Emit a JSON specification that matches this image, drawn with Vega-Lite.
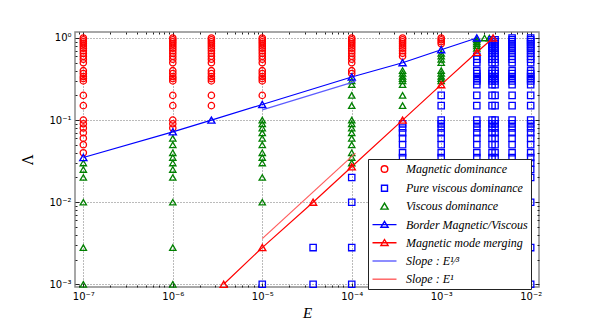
{
"$schema": "https://vega.github.io/schema/vega-lite/v6.json",
"width": 464, "height": 255,
"autosize": "none",
"padding": {"left": 75, "top": 32, "right": 61, "bottom": 33},
"background": "white",
"config": {"view": {"stroke": "#8a8a8a", "strokeWidth": 1.5}},
"data": {"values": [
{"E":1e-7,"L":1,"c":"M"},{"E":1e-7,"L":0.95,"c":"M"},{"E":1e-7,"L":0.9,"c":"M"},{"E":1e-7,"L":0.85,"c":"M"},{"E":1e-7,"L":0.8,"c":"M"},{"E":1e-7,"L":0.75,"c":"M"},{"E":1e-7,"L":0.7,"c":"M"},{"E":1e-7,"L":0.65,"c":"M"},{"E":1e-7,"L":0.6,"c":"M"},{"E":1e-7,"L":0.55,"c":"M"},{"E":1e-7,"L":0.5,"c":"M"},{"E":1e-7,"L":0.4,"c":"M"},{"E":1e-7,"L":0.37,"c":"M"},{"E":1e-7,"L":0.34,"c":"M"},{"E":1e-7,"L":0.32,"c":"M"},{"E":1e-7,"L":0.3,"c":"M"},{"E":1e-7,"L":0.2,"c":"M"},{"E":1e-7,"L":0.15,"c":"M"},{"E":1e-7,"L":0.1,"c":"M"},{"E":1e-7,"L":0.09,"c":"M"},{"E":1e-7,"L":0.08,"c":"M"},{"E":1e-7,"L":0.07,"c":"M"},{"E":1e-7,"L":0.06,"c":"M"},{"E":1e-7,"L":0.05,"c":"M"},{"E":1e-7,"L":0.04,"c":"M"},
{"E":1e-7,"L":0.035,"c":"B"},
{"E":1e-7,"L":0.03,"c":"V"},{"E":1e-7,"L":0.025,"c":"V"},{"E":1e-7,"L":0.02,"c":"V"},{"E":1e-7,"L":0.01,"c":"V"},{"E":1e-7,"L":0.0028,"c":"V"},{"E":1e-7,"L":0.001,"c":"V"},
{"E":1e-6,"L":1,"c":"M"},{"E":1e-6,"L":0.95,"c":"M"},{"E":1e-6,"L":0.9,"c":"M"},{"E":1e-6,"L":0.85,"c":"M"},{"E":1e-6,"L":0.8,"c":"M"},{"E":1e-6,"L":0.75,"c":"M"},{"E":1e-6,"L":0.7,"c":"M"},{"E":1e-6,"L":0.65,"c":"M"},{"E":1e-6,"L":0.6,"c":"M"},{"E":1e-6,"L":0.55,"c":"M"},{"E":1e-6,"L":0.5,"c":"M"},{"E":1e-6,"L":0.4,"c":"M"},{"E":1e-6,"L":0.37,"c":"M"},{"E":1e-6,"L":0.34,"c":"M"},{"E":1e-6,"L":0.32,"c":"M"},{"E":1e-6,"L":0.3,"c":"M"},{"E":1e-6,"L":0.2,"c":"M"},{"E":1e-6,"L":0.15,"c":"M"},{"E":1e-6,"L":0.1,"c":"M"},{"E":1e-6,"L":0.09,"c":"M"},{"E":1e-6,"L":0.08,"c":"M"},
{"E":1e-6,"L":0.072,"c":"B"},
{"E":1e-6,"L":0.06,"c":"V"},{"E":1e-6,"L":0.05,"c":"V"},{"E":1e-6,"L":0.04,"c":"V"},{"E":1e-6,"L":0.035,"c":"V"},{"E":1e-6,"L":0.03,"c":"V"},{"E":1e-6,"L":0.025,"c":"V"},{"E":1e-6,"L":0.02,"c":"V"},{"E":1e-6,"L":0.01,"c":"V"},{"E":1e-6,"L":0.0028,"c":"V"},{"E":1e-6,"L":0.001,"c":"V"},
{"E":2.7e-6,"L":1,"c":"M"},{"E":2.7e-6,"L":0.95,"c":"M"},{"E":2.7e-6,"L":0.9,"c":"M"},{"E":2.7e-6,"L":0.85,"c":"M"},{"E":2.7e-6,"L":0.8,"c":"M"},{"E":2.7e-6,"L":0.75,"c":"M"},{"E":2.7e-6,"L":0.7,"c":"M"},{"E":2.7e-6,"L":0.65,"c":"M"},{"E":2.7e-6,"L":0.6,"c":"M"},{"E":2.7e-6,"L":0.55,"c":"M"},{"E":2.7e-6,"L":0.5,"c":"M"},{"E":2.7e-6,"L":0.4,"c":"M"},{"E":2.7e-6,"L":0.37,"c":"M"},{"E":2.7e-6,"L":0.34,"c":"M"},{"E":2.7e-6,"L":0.32,"c":"M"},{"E":2.7e-6,"L":0.3,"c":"M"},{"E":2.7e-6,"L":0.2,"c":"M"},{"E":2.7e-6,"L":0.15,"c":"M"},
{"E":2.7e-6,"L":0.1,"c":"B"},
{"E":3.7e-6,"L":0.001,"c":"G"},
{"E":1e-5,"L":1,"c":"M"},{"E":1e-5,"L":0.95,"c":"M"},{"E":1e-5,"L":0.9,"c":"M"},{"E":1e-5,"L":0.85,"c":"M"},{"E":1e-5,"L":0.8,"c":"M"},{"E":1e-5,"L":0.75,"c":"M"},{"E":1e-5,"L":0.7,"c":"M"},{"E":1e-5,"L":0.65,"c":"M"},{"E":1e-5,"L":0.6,"c":"M"},{"E":1e-5,"L":0.55,"c":"M"},{"E":1e-5,"L":0.5,"c":"M"},{"E":1e-5,"L":0.4,"c":"M"},{"E":1e-5,"L":0.37,"c":"M"},{"E":1e-5,"L":0.34,"c":"M"},{"E":1e-5,"L":0.32,"c":"M"},{"E":1e-5,"L":0.3,"c":"M"},{"E":1e-5,"L":0.2,"c":"M"},
{"E":1e-5,"L":0.155,"c":"B"},
{"E":1e-5,"L":0.1,"c":"V"},{"E":1e-5,"L":0.09,"c":"V"},{"E":1e-5,"L":0.08,"c":"V"},{"E":1e-5,"L":0.07,"c":"V"},{"E":1e-5,"L":0.06,"c":"V"},{"E":1e-5,"L":0.05,"c":"V"},{"E":1e-5,"L":0.04,"c":"V"},{"E":1e-5,"L":0.035,"c":"V"},{"E":1e-5,"L":0.03,"c":"V"},{"E":1e-5,"L":0.02,"c":"V"},{"E":1e-5,"L":0.01,"c":"V"},
{"E":1e-5,"L":0.0028,"c":"G"},
{"E":1e-5,"L":0.001,"c":"P"},
{"E":3.7e-5,"L":0.01,"c":"G"},
{"E":3.7e-5,"L":0.0028,"c":"P"},{"E":3.7e-5,"L":0.001,"c":"P"},
{"E":1e-4,"L":1,"c":"M"},{"E":1e-4,"L":0.95,"c":"M"},{"E":1e-4,"L":0.9,"c":"M"},{"E":1e-4,"L":0.85,"c":"M"},{"E":1e-4,"L":0.8,"c":"M"},{"E":1e-4,"L":0.75,"c":"M"},{"E":1e-4,"L":0.7,"c":"M"},{"E":1e-4,"L":0.65,"c":"M"},{"E":1e-4,"L":0.6,"c":"M"},{"E":1e-4,"L":0.55,"c":"M"},{"E":1e-4,"L":0.5,"c":"M"},{"E":1e-4,"L":0.4,"c":"M"},{"E":1e-4,"L":0.37,"c":"M"},
{"E":1e-4,"L":0.335,"c":"B"},
{"E":1e-4,"L":0.3,"c":"V"},{"E":1e-4,"L":0.27,"c":"V"},{"E":1e-4,"L":0.2,"c":"V"},{"E":1e-4,"L":0.15,"c":"V"},{"E":1e-4,"L":0.1,"c":"V"},{"E":1e-4,"L":0.09,"c":"V"},{"E":1e-4,"L":0.08,"c":"V"},{"E":1e-4,"L":0.07,"c":"V"},{"E":1e-4,"L":0.06,"c":"V"},{"E":1e-4,"L":0.05,"c":"V"},{"E":1e-4,"L":0.04,"c":"V"},{"E":1e-4,"L":0.035,"c":"V"},{"E":1e-4,"L":0.03,"c":"V"},
{"E":1e-4,"L":0.027,"c":"G"},
{"E":1e-4,"L":0.02,"c":"P"},{"E":1e-4,"L":0.01,"c":"P"},{"E":1e-4,"L":0.0028,"c":"P"},{"E":1e-4,"L":0.001,"c":"P"},
{"E":3.7e-4,"L":1,"c":"M"},{"E":3.7e-4,"L":0.95,"c":"M"},{"E":3.7e-4,"L":0.9,"c":"M"},{"E":3.7e-4,"L":0.85,"c":"M"},{"E":3.7e-4,"L":0.8,"c":"M"},{"E":3.7e-4,"L":0.75,"c":"M"},{"E":3.7e-4,"L":0.7,"c":"M"},{"E":3.7e-4,"L":0.65,"c":"M"},{"E":3.7e-4,"L":0.6,"c":"M"},
{"E":3.7e-4,"L":0.5,"c":"B"},
{"E":3.7e-4,"L":0.4,"c":"V"},{"E":3.7e-4,"L":0.37,"c":"V"},{"E":3.7e-4,"L":0.34,"c":"V"},{"E":3.7e-4,"L":0.32,"c":"V"},{"E":3.7e-4,"L":0.3,"c":"V"},{"E":3.7e-4,"L":0.27,"c":"V"},{"E":3.7e-4,"L":0.2,"c":"V"},{"E":3.7e-4,"L":0.15,"c":"V"},
{"E":3.7e-4,"L":0.1,"c":"G"},
{"E":3.7e-4,"L":0.09,"c":"P"},{"E":3.7e-4,"L":0.08,"c":"P"},{"E":3.7e-4,"L":0.07,"c":"P"},{"E":3.7e-4,"L":0.06,"c":"P"},{"E":3.7e-4,"L":0.05,"c":"P"},{"E":3.7e-4,"L":0.04,"c":"P"},{"E":3.7e-4,"L":0.035,"c":"P"},{"E":3.7e-4,"L":0.03,"c":"P"},{"E":3.7e-4,"L":0.025,"c":"P"},{"E":3.7e-4,"L":0.02,"c":"P"},{"E":3.7e-4,"L":0.01,"c":"P"},{"E":3.7e-4,"L":0.0028,"c":"P"},{"E":3.7e-4,"L":0.001,"c":"P"},
{"E":1e-3,"L":1,"c":"M"},{"E":1e-3,"L":0.95,"c":"M"},{"E":1e-3,"L":0.9,"c":"M"},{"E":1e-3,"L":0.85,"c":"M"},
{"E":1e-3,"L":0.72,"c":"B"},
{"E":1e-3,"L":0.65,"c":"V"},{"E":1e-3,"L":0.6,"c":"V"},{"E":1e-3,"L":0.55,"c":"V"},{"E":1e-3,"L":0.5,"c":"V"},{"E":1e-3,"L":0.4,"c":"V"},{"E":1e-3,"L":0.37,"c":"V"},{"E":1e-3,"L":0.34,"c":"V"},{"E":1e-3,"L":0.32,"c":"V"},{"E":1e-3,"L":0.3,"c":"V"},
{"E":1e-3,"L":0.27,"c":"G"},
{"E":1e-3,"L":0.2,"c":"P"},{"E":1e-3,"L":0.15,"c":"P"},{"E":1e-3,"L":0.1,"c":"P"},{"E":1e-3,"L":0.09,"c":"P"},{"E":1e-3,"L":0.08,"c":"P"},{"E":1e-3,"L":0.07,"c":"P"},{"E":1e-3,"L":0.06,"c":"P"},{"E":1e-3,"L":0.05,"c":"P"},{"E":1e-3,"L":0.04,"c":"P"},{"E":1e-3,"L":0.035,"c":"P"},{"E":1e-3,"L":0.03,"c":"P"},{"E":1e-3,"L":0.025,"c":"P"},{"E":1e-3,"L":0.02,"c":"P"},{"E":1e-3,"L":0.01,"c":"P"},{"E":1e-3,"L":0.0028,"c":"P"},{"E":1e-3,"L":0.001,"c":"P"},
{"E":2.5e-3,"L":1,"c":"B"},
{"E":2.5e-3,"L":0.95,"c":"V"},{"E":2.5e-3,"L":0.9,"c":"V"},{"E":2.5e-3,"L":0.85,"c":"V"},{"E":2.5e-3,"L":0.8,"c":"V"},{"E":2.5e-3,"L":0.75,"c":"V"},
{"E":2.5e-3,"L":0.67,"c":"G"},
{"E":2.5e-3,"L":0.6,"c":"P"},{"E":2.5e-3,"L":0.55,"c":"P"},{"E":2.5e-3,"L":0.5,"c":"P"},{"E":2.5e-3,"L":0.4,"c":"P"},{"E":2.5e-3,"L":0.37,"c":"P"},{"E":2.5e-3,"L":0.34,"c":"P"},{"E":2.5e-3,"L":0.32,"c":"P"},{"E":2.5e-3,"L":0.3,"c":"P"},{"E":2.5e-3,"L":0.27,"c":"P"},{"E":2.5e-3,"L":0.2,"c":"P"},{"E":2.5e-3,"L":0.15,"c":"P"},{"E":2.5e-3,"L":0.1,"c":"P"},{"E":2.5e-3,"L":0.09,"c":"P"},{"E":2.5e-3,"L":0.08,"c":"P"},{"E":2.5e-3,"L":0.07,"c":"P"},{"E":2.5e-3,"L":0.06,"c":"P"},{"E":2.5e-3,"L":0.05,"c":"P"},{"E":2.5e-3,"L":0.04,"c":"P"},{"E":2.5e-3,"L":0.035,"c":"P"},{"E":2.5e-3,"L":0.03,"c":"P"},{"E":2.5e-3,"L":0.025,"c":"P"},{"E":2.5e-3,"L":0.02,"c":"P"},{"E":2.5e-3,"L":0.01,"c":"P"},{"E":2.5e-3,"L":0.0028,"c":"P"},{"E":2.5e-3,"L":0.001,"c":"P"},
{"E":3.05e-3,"L":1,"c":"V"},{"E":3.45e-3,"L":1,"c":"V"},
{"E":3.8e-3,"L":1,"c":"G"},
{"E":3.7e-3,"L":0.95,"c":"P"},{"E":3.7e-3,"L":0.9,"c":"P"},{"E":3.7e-3,"L":0.85,"c":"P"},{"E":3.7e-3,"L":0.8,"c":"P"},{"E":3.7e-3,"L":0.75,"c":"P"},{"E":3.7e-3,"L":0.7,"c":"P"},{"E":3.7e-3,"L":0.65,"c":"P"},{"E":3.7e-3,"L":0.6,"c":"P"},{"E":3.7e-3,"L":0.55,"c":"P"},{"E":3.7e-3,"L":0.5,"c":"P"},{"E":3.7e-3,"L":0.4,"c":"P"},{"E":3.7e-3,"L":0.37,"c":"P"},{"E":3.7e-3,"L":0.34,"c":"P"},{"E":3.7e-3,"L":0.32,"c":"P"},{"E":3.7e-3,"L":0.3,"c":"P"},{"E":3.7e-3,"L":0.27,"c":"P"},{"E":3.7e-3,"L":0.2,"c":"P"},{"E":3.7e-3,"L":0.15,"c":"P"},{"E":3.7e-3,"L":0.1,"c":"P"},{"E":3.7e-3,"L":0.09,"c":"P"},{"E":3.7e-3,"L":0.08,"c":"P"},{"E":3.7e-3,"L":0.07,"c":"P"},{"E":3.7e-3,"L":0.06,"c":"P"},{"E":3.7e-3,"L":0.05,"c":"P"},{"E":3.7e-3,"L":0.04,"c":"P"},{"E":3.7e-3,"L":0.035,"c":"P"},{"E":3.7e-3,"L":0.03,"c":"P"},{"E":3.7e-3,"L":0.025,"c":"P"},{"E":3.7e-3,"L":0.02,"c":"P"},{"E":3.7e-3,"L":0.01,"c":"P"},{"E":3.7e-3,"L":0.0028,"c":"P"},{"E":3.7e-3,"L":0.001,"c":"P"},
{"E":4e-3,"L":0.95,"c":"P"},{"E":4e-3,"L":0.9,"c":"P"},{"E":4e-3,"L":0.85,"c":"P"},{"E":4e-3,"L":0.8,"c":"P"},{"E":4e-3,"L":0.75,"c":"P"},{"E":4e-3,"L":0.7,"c":"P"},{"E":4e-3,"L":0.65,"c":"P"},{"E":4e-3,"L":0.6,"c":"P"},{"E":4e-3,"L":0.55,"c":"P"},{"E":4e-3,"L":0.5,"c":"P"},{"E":4e-3,"L":0.4,"c":"P"},{"E":4e-3,"L":0.37,"c":"P"},{"E":4e-3,"L":0.34,"c":"P"},{"E":4e-3,"L":0.32,"c":"P"},{"E":4e-3,"L":0.3,"c":"P"},{"E":4e-3,"L":0.27,"c":"P"},{"E":4e-3,"L":0.2,"c":"P"},{"E":4e-3,"L":0.15,"c":"P"},{"E":4e-3,"L":0.1,"c":"P"},{"E":4e-3,"L":0.09,"c":"P"},{"E":4e-3,"L":0.08,"c":"P"},{"E":4e-3,"L":0.07,"c":"P"},{"E":4e-3,"L":0.06,"c":"P"},{"E":4e-3,"L":0.05,"c":"P"},{"E":4e-3,"L":0.04,"c":"P"},{"E":4e-3,"L":0.035,"c":"P"},{"E":4e-3,"L":0.03,"c":"P"},{"E":4e-3,"L":0.025,"c":"P"},{"E":4e-3,"L":0.02,"c":"P"},{"E":4e-3,"L":0.01,"c":"P"},{"E":4e-3,"L":0.0028,"c":"P"},{"E":4e-3,"L":0.001,"c":"P"},
{"E":6.2e-3,"L":1,"c":"P"},{"E":6.2e-3,"L":0.95,"c":"P"},{"E":6.2e-3,"L":0.9,"c":"P"},{"E":6.2e-3,"L":0.85,"c":"P"},{"E":6.2e-3,"L":0.8,"c":"P"},{"E":6.2e-3,"L":0.75,"c":"P"},{"E":6.2e-3,"L":0.7,"c":"P"},{"E":6.2e-3,"L":0.65,"c":"P"},{"E":6.2e-3,"L":0.6,"c":"P"},{"E":6.2e-3,"L":0.55,"c":"P"},{"E":6.2e-3,"L":0.5,"c":"P"},{"E":6.2e-3,"L":0.4,"c":"P"},{"E":6.2e-3,"L":0.37,"c":"P"},{"E":6.2e-3,"L":0.34,"c":"P"},{"E":6.2e-3,"L":0.32,"c":"P"},{"E":6.2e-3,"L":0.3,"c":"P"},{"E":6.2e-3,"L":0.27,"c":"P"},{"E":6.2e-3,"L":0.2,"c":"P"},{"E":6.2e-3,"L":0.15,"c":"P"},{"E":6.2e-3,"L":0.1,"c":"P"},{"E":6.2e-3,"L":0.09,"c":"P"},{"E":6.2e-3,"L":0.08,"c":"P"},{"E":6.2e-3,"L":0.07,"c":"P"},{"E":6.2e-3,"L":0.06,"c":"P"},{"E":6.2e-3,"L":0.05,"c":"P"},{"E":6.2e-3,"L":0.04,"c":"P"},{"E":6.2e-3,"L":0.035,"c":"P"},{"E":6.2e-3,"L":0.03,"c":"P"},{"E":6.2e-3,"L":0.025,"c":"P"},{"E":6.2e-3,"L":0.02,"c":"P"},{"E":6.2e-3,"L":0.01,"c":"P"},{"E":6.2e-3,"L":0.0028,"c":"P"},{"E":6.2e-3,"L":0.001,"c":"P"},
{"E":1e-2,"L":1,"c":"P"},{"E":1e-2,"L":0.95,"c":"P"},{"E":1e-2,"L":0.9,"c":"P"},{"E":1e-2,"L":0.85,"c":"P"},{"E":1e-2,"L":0.8,"c":"P"},{"E":1e-2,"L":0.75,"c":"P"},{"E":1e-2,"L":0.7,"c":"P"},{"E":1e-2,"L":0.65,"c":"P"},{"E":1e-2,"L":0.6,"c":"P"},{"E":1e-2,"L":0.55,"c":"P"},{"E":1e-2,"L":0.5,"c":"P"},{"E":1e-2,"L":0.4,"c":"P"},{"E":1e-2,"L":0.37,"c":"P"},{"E":1e-2,"L":0.34,"c":"P"},{"E":1e-2,"L":0.32,"c":"P"},{"E":1e-2,"L":0.3,"c":"P"},{"E":1e-2,"L":0.27,"c":"P"},{"E":1e-2,"L":0.2,"c":"P"},{"E":1e-2,"L":0.15,"c":"P"},{"E":1e-2,"L":0.1,"c":"P"},{"E":1e-2,"L":0.09,"c":"P"},{"E":1e-2,"L":0.08,"c":"P"},{"E":1e-2,"L":0.07,"c":"P"},{"E":1e-2,"L":0.06,"c":"P"},{"E":1e-2,"L":0.05,"c":"P"},{"E":1e-2,"L":0.04,"c":"P"},{"E":1e-2,"L":0.035,"c":"P"},{"E":1e-2,"L":0.03,"c":"P"},{"E":1e-2,"L":0.025,"c":"P"},{"E":1e-2,"L":0.02,"c":"P"},{"E":1e-2,"L":0.01,"c":"P"},{"E":1e-2,"L":0.0028,"c":"P"},{"E":1e-2,"L":0.001,"c":"P"},
{"E":1e-5,"L":0.133,"c":"S3"},{"E":1.1e-4,"L":0.296,"c":"S3"},
{"E":1e-5,"L":0.0036,"c":"S1"},{"E":1.1e-4,"L":0.0396,"c":"S1"}
]},
"resolve": {"axis": {"x": "independent", "y": "independent"}},
"layer": [
 {
  "encoding": {
    "x": {"field": "E", "type": "quantitative",
      "scale": {"type": "log", "domain": [8.07e-8, 1.239e-2], "nice": false},
      "axis": {"title": "E", "titleFont": "Liberation Serif", "titleFontStyle": "italic", "titleFontWeight": "normal", "titleFontSize": 15, "titleColor": "black", "titlePadding": 2,
        "values": [9e-8,1e-7,2e-7,3e-7,4e-7,5e-7,6e-7,7e-7,8e-7,9e-7,1e-6,2e-6,3e-6,4e-6,5e-6,6e-6,7e-6,8e-6,9e-6,1e-5,2e-5,3e-5,4e-5,5e-5,6e-5,7e-5,8e-5,9e-5,1e-4,2e-4,3e-4,4e-4,5e-4,6e-4,7e-4,8e-4,9e-4,1e-3,2e-3,3e-3,4e-3,5e-3,6e-3,7e-3,8e-3,9e-3,1e-2],
        "labelExpr": "abs(log(datum.value)/LN10 - round(log(datum.value)/LN10)) < 1e-6 ? '10' + ['⁰','⁻¹','⁻²','⁻³','⁻⁴','⁻⁵','⁻⁶','⁻⁷'][round(-log(datum.value)/LN10)] : ''",
        "labelFont": "DejaVu Sans", "labelFontSize": 10, "labelColor": "black", "labelPadding": 8, "labelOverlap": false, "labelFlush": false,
        "grid": true, "gridColor": "#777777", "gridDash": [1, 2], "gridWidth": 1,
        "gridOpacity": {"condition": {"test": "abs(log(datum.value)/LN10 - round(log(datum.value)/LN10)) < 1e-6", "value": 1}, "value": 0},
        "tickSize": {"condition": {"test": "abs(log(datum.value)/LN10 - round(log(datum.value)/LN10)) < 1e-6", "value": -4}, "value": -2},
        "tickColor": "#222222", "domain": false}},
    "y": {"field": "L", "type": "quantitative",
      "scale": {"type": "log", "domain": [9.27e-4, 1.183], "nice": false},
      "axis": {"title": "Λ", "titleFont": "DejaVu Serif", "titleFontWeight": "normal", "titleFontSize": 14, "titleColor": "black", "titlePadding": 13,
        "values": [1e-3,2e-3,3e-3,4e-3,5e-3,6e-3,7e-3,8e-3,9e-3,1e-2,2e-2,3e-2,4e-2,5e-2,6e-2,7e-2,8e-2,9e-2,1e-1,2e-1,3e-1,4e-1,5e-1,6e-1,7e-1,8e-1,9e-1,1],
        "labelExpr": "abs(log(datum.value)/LN10 - round(log(datum.value)/LN10)) < 1e-6 ? '10' + ['⁰','⁻¹','⁻²','⁻³','⁻⁴','⁻⁵','⁻⁶','⁻⁷'][round(-log(datum.value)/LN10)] : ''",
        "labelFont": "DejaVu Sans", "labelFontSize": 10, "labelColor": "black", "labelPadding": 8, "labelOverlap": false, "labelFlush": false,
        "grid": true, "gridColor": "#777777", "gridDash": [1, 2], "gridWidth": 1,
        "gridOpacity": {"condition": {"test": "abs(log(datum.value)/LN10 - round(log(datum.value)/LN10)) < 1e-6", "value": 1}, "value": 0},
        "tickSize": {"condition": {"test": "abs(log(datum.value)/LN10 - round(log(datum.value)/LN10)) < 1e-6", "value": -4}, "value": -2},
        "tickColor": "#222222", "domain": false}},
    "color": {"field": "c", "type": "nominal",
      "scale": {"domain": ["M","P","V","B","G","S3","S1"], "range": ["#ff0000","#0000ff","#008000","#0000ff","#ff0000","#5c5cff","#ff5c5c"]},
      "legend": {"title": null, "orient": "none", "legendX": 293, "legendY": 127, "zindex": 1,
        "fillColor": "white", "strokeColor": "#222222", "padding": 3, "cornerRadius": 0,
        "symbolSize": 144, "symbolOffset": 6.5, "labelOffset": 14.5, "rowPadding": 5.2,
        "labelFont": "Liberation Serif", "labelFontStyle": "italic", "labelFontSize": 12, "labelColor": "black", "labelLimit": 300,
        "labelExpr": "datum.value==='M' ? 'Magnetic dominance' : datum.value==='P' ? 'Pure viscous dominance' : datum.value==='V' ? 'Viscous dominance' : datum.value==='B' ? 'Border Magnetic/Viscous' : datum.value==='G' ? 'Magnetic mode merging' : datum.value==='S3' ? 'Slope : E¹⁄³' : 'Slope : E¹'",
        "encode": {"symbols": {"update": {
          "shape": {"signal": "datum.value==='M' ? 'M-0.55,0A0.55,0.55,0,1,1,0.55,0A0.55,0.55,0,1,1,-0.55,0Z' : datum.value==='P' ? 'M-0.5,-0.5H0.5V0.5H-0.5Z' : datum.value==='V' ? 'M0,-0.55L0.6,0.45H-0.6Z' : (datum.value==='B' || datum.value==='G') ? 'M-2,0H2M0,-0.55L0.6,0.45H-0.6Z' : 'M-2,0H2'"},
          "fill": {"value": "transparent"},
          "stroke": {"scale": "color", "field": "value"},
          "strokeWidth": {"value": 1.4},
          "opacity": {"value": 1}}}}}}
  },
  "layer": [
    {"transform": [{"filter": "datum.c==='M' || datum.c==='P' || datum.c==='V'"}],
     "mark": {"type": "point", "filled": false, "size": 40, "strokeWidth": 1.3, "opacity": 1},
     "encoding": {"shape": {"field": "c", "type": "nominal", "scale": {"domain": ["M","P","V"], "range": ["circle","square","triangle-up"]}, "legend": null}}},
    {"transform": [{"filter": "datum.c==='B' || datum.c==='G' || datum.c==='S3' || datum.c==='S1'"}],
     "mark": {"type": "line", "strokeWidth": 1.2},
     "encoding": {"order": {"field": "E", "type": "quantitative"}}},
    {"transform": [{"filter": "datum.c==='B' || datum.c==='G'"}],
     "mark": {"type": "point", "shape": "triangle-up", "filled": false, "size": 50, "strokeWidth": 1.4, "opacity": 1}}
  ]
 },
 {
  "transform": [{"filter": "datum.c==='S1'"}],
  "mark": {"type": "point", "opacity": 0},
  "encoding": {
    "x": {"field": "E", "type": "quantitative",
      "axis": {"orient": "top", "title": null, "labels": false, "grid": false, "domain": false,
        "values": [9e-8,1e-7,2e-7,3e-7,4e-7,5e-7,6e-7,7e-7,8e-7,9e-7,1e-6,2e-6,3e-6,4e-6,5e-6,6e-6,7e-6,8e-6,9e-6,1e-5,2e-5,3e-5,4e-5,5e-5,6e-5,7e-5,8e-5,9e-5,1e-4,2e-4,3e-4,4e-4,5e-4,6e-4,7e-4,8e-4,9e-4,1e-3,2e-3,3e-3,4e-3,5e-3,6e-3,7e-3,8e-3,9e-3,1e-2],
        "tickSize": {"condition": {"test": "abs(log(datum.value)/LN10 - round(log(datum.value)/LN10)) < 1e-6", "value": -4}, "value": -2},
        "tickColor": "#222222"}},
    "y": {"field": "L", "type": "quantitative",
      "axis": {"orient": "right", "title": null, "labels": false, "grid": false, "domain": false,
        "values": [1e-3,2e-3,3e-3,4e-3,5e-3,6e-3,7e-3,8e-3,9e-3,1e-2,2e-2,3e-2,4e-2,5e-2,6e-2,7e-2,8e-2,9e-2,1e-1,2e-1,3e-1,4e-1,5e-1,6e-1,7e-1,8e-1,9e-1,1],
        "tickSize": {"condition": {"test": "abs(log(datum.value)/LN10 - round(log(datum.value)/LN10)) < 1e-6", "value": -4}, "value": -2},
        "tickColor": "#222222"}}
  }
 }
]
}
